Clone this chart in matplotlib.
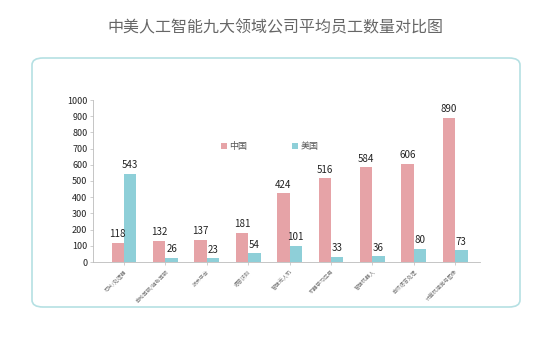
import matplotlib
matplotlib.use("Agg")
import matplotlib.pyplot as plt
from matplotlib.patches import FancyBboxPatch
import numpy as np

plt.rcParams['font.family'] = ['Noto Sans CJK SC', 'DejaVu Sans']

categories = ["芯片/处理器", "自动驾驶/辅助驾驶", "技术平台", "语音识别", "智能无人机",
              "机器学习应用", "智能机器人", "自然语言处理", "计算机视觉与图像"]
china = [118, 132, 137, 181, 424, 516, 584, 606, 890]
usa = [543, 26, 23, 54, 101, 33, 36, 80, 73]
yticks = [0, 100, 200, 300, 400, 500, 600, 700, 800, 900, 1000]

c_cn = "#e6a3a7"
c_us = "#8ecfd8"

fig = plt.figure(figsize=(5.5, 3.46), dpi=100)
fig.patch.set_facecolor("white")

fig.text(0.5, 0.918, "中美人工智能九大领域公司平均员工数量对比图", ha="center", va="center",
         fontsize=11.5, color="#666666")

box = FancyBboxPatch((32/550, 1-307/346), (520-32)/550, (307-58)/346,
                     boxstyle="round,pad=0,rounding_size=0.02",
                     transform=fig.transFigure, facecolor="none",
                     edgecolor="#b5e0e3", linewidth=1.2, zorder=-1)
fig.patches.append(box)

ax = fig.add_axes([93/550, 1-262/346, (480-93)/550, (262-100)/346])
ax.set_facecolor("none")
ax.set_zorder(2)
x = np.arange(len(categories))
w = 0.3
b1 = ax.bar(x - w/2, china, w, color=c_cn, label="中国")
b2 = ax.bar(x + w/2, usa, w, color=c_us, label="美国")
for rect, v in zip(b1, china):
    ax.text(rect.get_x() + rect.get_width()/2, v + 22, str(v), ha="center", va="bottom",
            fontsize=7, color="#222222")
for rect, v in zip(b2, usa):
    ax.text(rect.get_x() + rect.get_width()/2, v + 22, str(v), ha="center", va="bottom",
            fontsize=7, color="#222222")

ax.set_xlim(-0.75, len(categories) - 0.4)
ax.set_ylim(0, 1000)
ax.set_yticks(yticks)
ax.set_yticklabels([str(t) for t in yticks], fontsize=6.5, color="#222222")
ax.set_xticks(x)
ax.set_xticklabels(categories, rotation=45, ha="right", rotation_mode="anchor",
                   fontsize=3.8, color="#777777")
for s in ["top", "right"]:
    ax.spines[s].set_visible(False)
for s in ["left", "bottom"]:
    ax.spines[s].set_color("#bbbbbb")
    ax.spines[s].set_linewidth(0.6)
ax.tick_params(axis="y", length=2, width=0.5, color="#bbbbbb", pad=2)
ax.tick_params(axis="x", length=2, width=0.5, color="#bbbbbb", pad=3)

leg = ax.legend(loc="center left", bbox_to_anchor=(0.31, 0.71), ncol=2, frameon=False,
                fontsize=6.5, handlelength=0.6, handleheight=0.6, columnspacing=5,
                handletextpad=0.3)
for t in leg.get_texts():
    t.set_color("#555555")

fig.savefig("out.png", dpi=100, facecolor="white")
